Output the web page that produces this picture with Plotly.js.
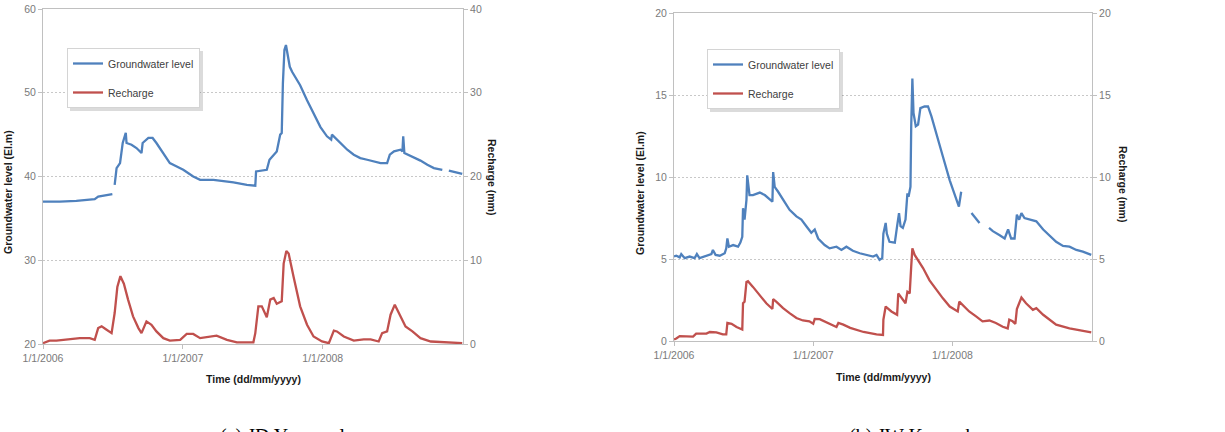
<!DOCTYPE html>
<html>
<head>
<meta charset="utf-8">
<script src="https://cdn.plot.ly/plotly-3.0.1.min.js"></script>
<style>html,body{margin:0;padding:0;background:#fff;}#chart{width:1225px;height:432px;}</style>
</head>
<body>
<div id="chart"></div>
<script>
// ---------- Data ----------
const tickDates = ["2006-01-01", "2007-01-01", "2008-01-01"];
const tickLabels = ["1/1/2006", "1/1/2007", "1/1/2008"];

// (a) JD – groundwater level (El.m), left axis
const jdLevelDates = ["2006-01-01","2006-02-14","2006-03-29","2006-04-24","2006-05-16","2006-05-25","2006-06-16","2006-07-01","2006-07-03",
  "2006-07-07","2006-07-12","2006-07-21","2006-07-28","2006-08-05","2006-08-07","2006-08-20","2006-09-02","2006-09-15","2006-09-18",
  "2006-10-03","2006-10-14","2006-10-24","2006-11-11","2006-11-28","2006-12-16","2007-01-02","2007-01-28","2007-02-15","2007-03-22",
  "2007-04-26","2007-05-13","2007-06-17","2007-07-09","2007-07-11","2007-08-08","2007-08-15","2007-09-03","2007-09-12","2007-09-16",
  "2007-09-19","2007-09-23","2007-09-27","2007-10-01","2007-10-07","2007-10-13","2007-11-03","2007-11-21","2007-12-08","2007-12-26",
  "2008-01-12","2008-01-23","2008-01-25","2008-02-16","2008-03-05","2008-03-22","2008-04-08","2008-04-26","2008-05-13","2008-05-31",
  "2008-06-17","2008-06-24","2008-07-05","2008-07-22","2008-07-27","2008-07-29","2008-08-01","2008-08-26","2008-09-12","2008-09-30",
  "2008-10-17","2008-11-08","2008-11-14","2008-11-25","2008-12-30"];
const jdLevel = [37.0,37.0,37.1,37.2,37.3,37.6,37.8,37.9,null,
  39.0,41.0,41.6,44.0,45.2,44.0,43.8,43.4,42.8,44.0,
  44.6,44.6,44.0,42.8,41.6,41.2,40.8,40.0,39.6,39.6,
  39.4,39.3,39.0,38.9,40.6,40.8,42.0,43.0,45.0,45.2,
  51.1,55.1,55.7,54.7,53.1,52.5,50.9,49.1,47.5,45.9,
  44.8,44.4,45.0,44.0,43.2,42.6,42.2,42.0,41.8,41.6,
  41.6,42.6,43.0,43.2,43.0,44.8,42.8,42.3,41.9,41.4,
  41.0,40.8,null,40.7,40.3];

// (a) JD – recharge (mm), right axis
const jdRechargeDates = ["2006-01-01","2006-01-18","2006-02-05","2006-03-03","2006-04-07","2006-05-03","2006-05-16","2006-05-25","2006-06-03",
  "2006-06-16","2006-06-29","2006-07-07","2006-07-14","2006-07-22","2006-07-31","2006-08-11","2006-08-24","2006-09-07","2006-09-15",
  "2006-09-28","2006-10-11","2006-10-24","2006-11-11","2006-11-28","2006-12-25","2007-01-11","2007-01-28","2007-02-15","2007-03-04",
  "2007-03-30","2007-04-26","2007-05-22","2007-07-04","2007-07-09","2007-07-17","2007-07-26","2007-08-08","2007-08-17","2007-08-26",
  "2007-09-03","2007-09-16","2007-09-21","2007-09-28","2007-10-04","2007-10-17","2007-11-03","2007-11-21","2007-12-08","2007-12-30",
  "2008-01-17","2008-01-30","2008-02-07","2008-02-25","2008-03-22","2008-04-17","2008-05-05","2008-05-26","2008-06-04","2008-06-17",
  "2008-06-26","2008-07-07","2008-07-22","2008-08-04","2008-08-22","2008-09-12","2008-10-09","2008-11-12","2008-12-09","2008-12-30"];
const jdRecharge = [0.1,0.4,0.4,0.55,0.7,0.7,0.5,1.9,2.1,
  1.7,1.3,3.7,6.8,8.1,7.2,5.3,3.3,1.9,1.3,
  2.7,2.3,1.5,0.7,0.4,0.5,1.2,1.2,0.7,0.8,
  1.0,0.5,0.2,0.2,1.3,4.5,4.5,3.2,5.3,5.5,
  4.8,5.1,9.6,11.1,10.8,8.0,4.5,2.3,0.9,0.3,
  0.1,1.6,1.5,0.9,0.4,0.55,0.55,0.3,1.3,1.5,
  3.5,4.7,3.3,2.1,1.5,0.7,0.3,0.2,0.2,0.1];

// (b) JW – groundwater level (El.m), left axis
const jwLevelDates = ["2006-01-01","2006-01-07","2006-01-16","2006-01-20","2006-01-29","2006-02-11","2006-02-24","2006-03-02","2006-03-09",
  "2006-03-27","2006-04-09","2006-04-13","2006-04-20","2006-05-01","2006-05-14","2006-05-18","2006-05-21","2006-05-25","2006-06-05",
  "2006-06-18","2006-06-24","2006-06-29","2006-07-01","2006-07-05","2006-07-08","2006-07-10","2006-07-12","2006-07-16","2006-07-18",
  "2006-07-27","2006-08-14","2006-08-27","2006-09-09","2006-09-16","2006-09-18","2006-09-22","2006-10-01","2006-10-14","2006-10-31",
  "2006-11-18","2006-12-01","2006-12-14","2006-12-27","2007-01-05","2007-01-14","2007-01-31","2007-02-13","2007-03-03","2007-03-16",
  "2007-03-29","2007-04-15","2007-05-03","2007-05-20","2007-06-07","2007-06-16","2007-06-24","2007-07-01","2007-07-04","2007-07-10",
  "2007-07-13","2007-07-20","2007-08-03","2007-08-09","2007-08-14","2007-08-18","2007-08-24","2007-08-31","2007-09-05","2007-09-08",
  "2007-09-13","2007-09-15","2007-09-18","2007-09-21","2007-09-27","2007-10-03","2007-10-09","2007-10-20","2007-10-29","2007-11-07",
  "2007-11-20","2007-12-07","2007-12-25","2008-01-11","2008-01-18","2008-01-24","2008-01-30","2008-02-20","2008-03-12","2008-03-20",
  "2008-04-06","2008-04-16","2008-05-04","2008-05-17","2008-05-26","2008-06-03","2008-06-12","2008-06-18","2008-06-24","2008-06-30",
  "2008-07-08","2008-07-26","2008-08-08","2008-08-26","2008-09-12","2008-09-29","2008-10-17","2008-11-03","2008-11-21","2008-12-08",
  "2008-12-30"];
const jwLevel = [5.15,5.2,5.1,5.3,5.05,5.15,5.05,5.3,5.05,
  5.2,5.3,5.55,5.25,5.2,5.35,5.65,6.25,5.75,5.85,
  5.75,6.0,6.35,8.1,7.4,8.1,8.6,10.1,9.4,8.9,
  8.9,9.05,8.9,8.6,8.5,10.3,9.4,9.1,8.6,8.0,
  7.6,7.4,7.0,6.6,6.8,6.25,5.85,5.65,5.75,5.55,
  5.75,5.5,5.35,5.25,5.15,5.25,4.95,5.05,6.55,7.2,
  6.55,6.05,6.0,7.0,7.8,7.0,6.9,7.4,9.0,8.8,
  9.4,13.1,16.0,13.9,13.1,13.2,14.2,14.3,14.3,13.7,
  12.7,11.25,9.8,8.6,8.2,9.1,null,7.8,7.2,null,
  6.9,6.7,6.45,6.25,6.8,6.25,6.25,7.7,7.4,7.8,
  7.5,7.4,7.3,6.8,6.45,6.05,5.8,5.75,5.55,5.45,
  5.25];

// (b) JW – recharge (mm), right axis
const jwRechargeDates = ["2006-01-01","2006-01-07","2006-01-16","2006-02-11","2006-02-20","2006-02-28","2006-03-27","2006-04-05","2006-04-22",
  "2006-05-09","2006-05-18","2006-05-21","2006-06-01","2006-06-14","2006-06-29","2006-07-01","2006-07-05","2006-07-10","2006-07-14",
  "2006-07-27","2006-08-14","2006-08-31","2006-09-16","2006-09-18","2006-09-26","2006-10-14","2006-10-31","2006-11-18","2006-12-05",
  "2006-12-22","2007-01-01","2007-01-05","2007-01-18","2007-01-31","2007-02-18","2007-03-03","2007-03-08","2007-03-21","2007-04-08",
  "2007-05-13","2007-06-16","2007-07-03","2007-07-04","2007-07-10","2007-07-25","2007-08-09","2007-08-12","2007-08-24","2007-08-31",
  "2007-09-05","2007-09-11","2007-09-15","2007-09-18","2007-09-24","2007-10-03","2007-10-16","2007-11-02","2007-11-20","2007-12-07",
  "2007-12-25","2008-01-15","2008-01-19","2008-01-28","2008-02-14","2008-03-03","2008-03-20","2008-04-07","2008-04-24","2008-05-12",
  "2008-05-25","2008-05-29","2008-06-07","2008-06-14","2008-06-18","2008-06-30","2008-07-12","2008-07-30","2008-08-08","2008-08-26",
  "2008-09-29","2008-11-03","2008-12-30"];
const jwRecharge = [0.1,0.15,0.3,0.3,0.27,0.45,0.45,0.55,0.52,
  0.4,0.4,1.1,1.05,0.85,0.7,2.3,2.4,3.6,3.65,
  3.3,2.8,2.3,1.95,2.55,2.4,2.0,1.7,1.4,1.25,
  1.2,1.05,1.35,1.33,1.2,1.0,0.85,1.1,1.0,0.8,
  0.55,0.4,0.37,1.3,2.1,1.8,1.6,2.9,2.5,2.3,
  3.0,2.9,4.55,5.65,5.25,4.95,4.45,3.7,3.1,2.6,
  2.1,1.8,2.4,2.2,1.8,1.5,1.2,1.25,1.1,0.87,
  0.77,1.3,1.2,1.05,1.95,2.65,2.3,1.9,2.0,1.6,
  1.0,0.77,0.53];

const seriesNames = ["Groundwater level", "Recharge"];
const captions = ["(a) JD Yeonmal", "(b) JW Kwanak"];
const xTitle = "Time (dd/mm/yyyy)";
const levelTitle = "Groundwater level (El.m)";
const rechargeTitle = "Recharge (mm)";

// ---------- Styling ----------
const BLUE = "#4F81BD", RED = "#C0504D";
const W = 1225, H = 432;
const px = v => v / W, py = v => 1 - v / H;
const tickFont = {family: "Liberation Sans, Arial, sans-serif", size: 10.5, color: "#7a7a7a"};
const titleFont = {family: "Liberation Sans, Arial, sans-serif", size: 10.5, color: "#1a1a1a", weight: "bold"};

const traces = [
  {x: jdLevelDates, y: jdLevel, xaxis: "x", yaxis: "y", name: seriesNames[0], legend: "legend", legendgroup: "a1",
   mode: "lines", line: {color: BLUE, width: 2.3}, connectgaps: false},
  {x: jdRechargeDates, y: jdRecharge, xaxis: "x", yaxis: "y2", name: seriesNames[1], legend: "legend", legendgroup: "a2",
   mode: "lines", line: {color: RED, width: 2.3}},
  {x: jwLevelDates, y: jwLevel, xaxis: "x2", yaxis: "y3", name: seriesNames[0], legend: "legend2", legendgroup: "b1",
   mode: "lines", line: {color: BLUE, width: 2.3}, connectgaps: false},
  {x: jwRechargeDates, y: jwRecharge, xaxis: "x2", yaxis: "y4", name: seriesNames[1], legend: "legend2", legendgroup: "b2",
   mode: "lines", line: {color: RED, width: 2.3}}
];

function xAxis(domain, anchor) {
  return {domain: domain, anchor: anchor, type: "date", range: ["2006-01-01", "2009-01-01"],
    tickvals: tickDates, ticktext: tickLabels, tickfont: tickFont, showgrid: false, zeroline: false,
    showline: true, linecolor: "#c0c0c0", linewidth: 1, mirror: true,
    ticks: "outside", ticklen: 4, tickcolor: "#c0c0c0"};
}
function yAxis(domain, anchor, range, dtick, side, overlaying, grid) {
  const a = {domain: domain, anchor: anchor, range: range, dtick: dtick, tick0: range[0], side: side,
    tickfont: tickFont, showline: true, linecolor: "#c0c0c0", linewidth: 1, zeroline: false,
    ticks: "outside", ticklen: 4, tickcolor: "#c0c0c0", showgrid: grid,
    gridcolor: "#c8c8c8", griddash: "2px,2px", gridwidth: 1, fixedrange: true};
  if (overlaying) a.overlaying = overlaying;
  return a;
}

const dA = [px(43), px(463)], dB = [px(674), px(1092)];
const yA = [py(344), py(9)], yB = [py(341), py(13)];

const legendCommon = {bgcolor: "#ffffff", bordercolor: "#d4d4d4", borderwidth: 1,
  font: {family: "Liberation Sans, Arial, sans-serif", size: 10.5, color: "#404040"},
  tracegroupgap: 10, xanchor: "left", yanchor: "top", itemclick: false};

const ann = (x, y, text, opts) => Object.assign({xref: "paper", yref: "paper", x: x, y: y, text: text,
  showarrow: false, xanchor: "center", yanchor: "middle"}, opts || {});

const layout = {
  width: W, height: H, margin: {l: 0, r: 0, t: 0, b: 0},
  paper_bgcolor: "#ffffff", plot_bgcolor: "#ffffff", showlegend: true,
  xaxis: xAxis(dA, "y"),
  yaxis: yAxis(yA, "x", [20, 60], 10, "left", null, true),
  yaxis2: yAxis(yA, "x", [0, 40], 10, "right", "y", false),
  xaxis2: xAxis(dB, "y3"),
  yaxis3: yAxis(yB, "x2", [0, 20], 5, "left", null, true),
  yaxis4: yAxis(yB, "x2", [0, 20], 5, "right", "y3", false),
  legend: Object.assign({x: px(67), y: py(48)}, legendCommon),
  legend2: Object.assign({x: px(707), y: py(49)}, legendCommon),
  shapes: [
    {type: "rect", xref: "paper", yref: "paper", x0: px(70), x1: px(203), y0: py(51), y1: py(111),
     fillcolor: "rgba(0,0,0,0.14)", line: {width: 0}, layer: "above"},
    {type: "rect", xref: "paper", yref: "paper", x0: px(710), x1: px(843), y0: py(52), y1: py(112),
     fillcolor: "rgba(0,0,0,0.14)", line: {width: 0}, layer: "above"}
  ],
  annotations: [
    ann(px(253), py(379), xTitle, {font: titleFont}),
    ann(px(883), py(377), xTitle, {font: titleFont}),
    ann(px(8), py(192), levelTitle, {font: titleFont, textangle: -90}),
    ann(px(492), py(177), rechargeTitle, {font: titleFont, textangle: 90}),
    ann(px(640), py(193), levelTitle, {font: titleFont, textangle: -90}),
    ann(px(1123), py(184), rechargeTitle, {font: titleFont, textangle: 90}),
    ann(px(282), py(423), captions[0], {yanchor: "top", font: {family: "Liberation Serif, Times New Roman, serif", size: 20, color: "#000"}}),
    ann(px(912), py(423), captions[1], {yanchor: "top", font: {family: "Liberation Serif, Times New Roman, serif", size: 20, color: "#000"}})
  ]
};

Plotly.newPlot("chart", traces, layout, {staticPlot: true, displayModeBar: false});
</script>
</body>
</html>
